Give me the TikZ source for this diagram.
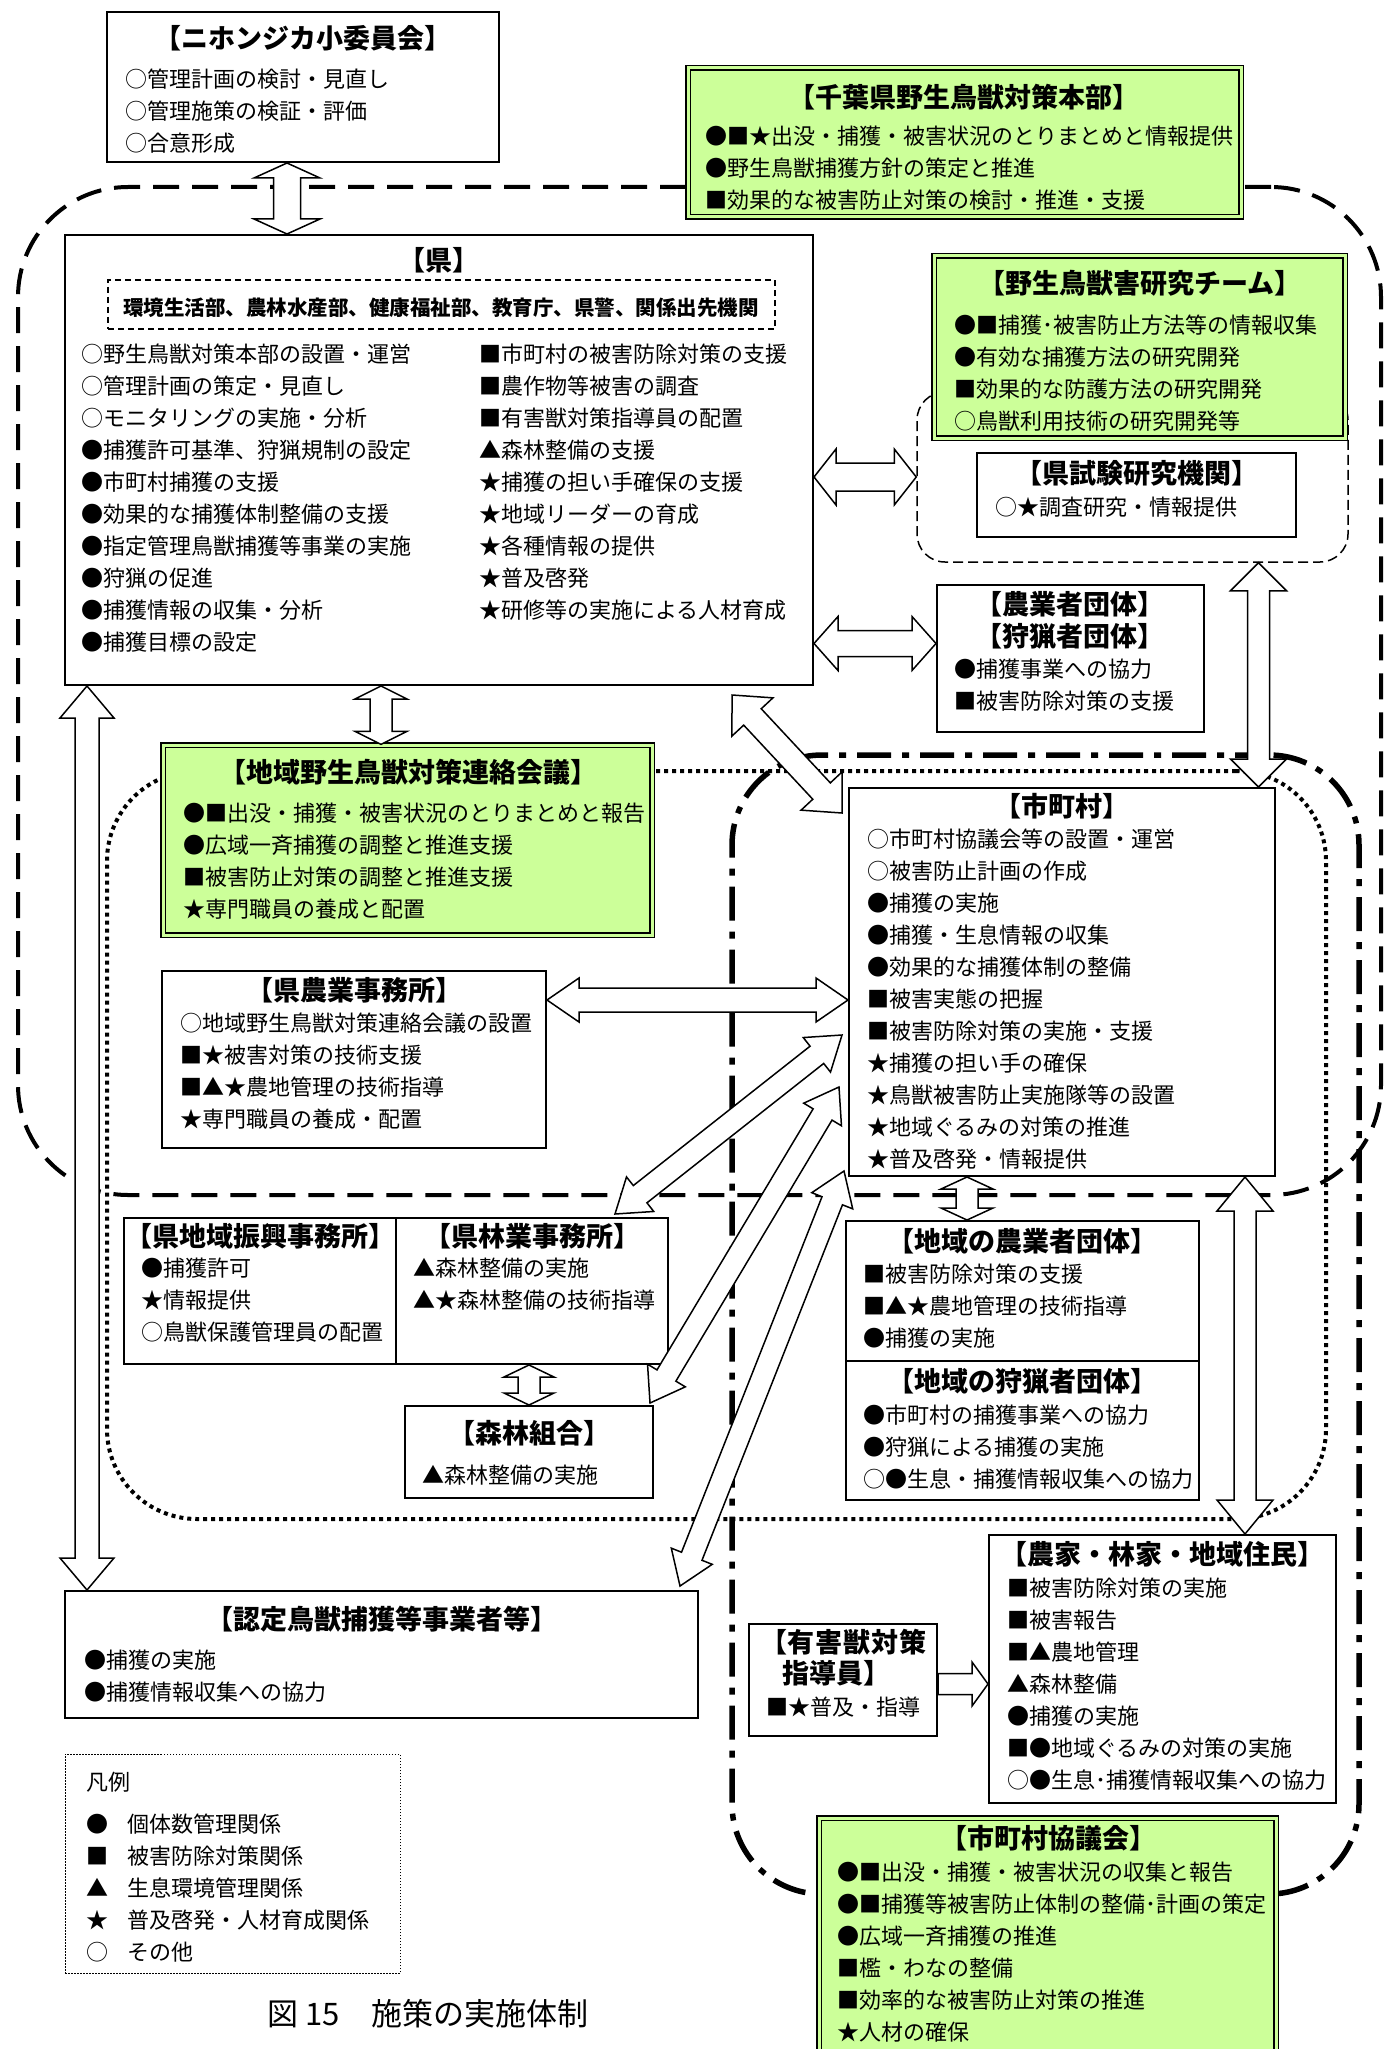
\documentclass[tikz,border=0pt]{standalone}
\usepackage{fontspec}
\setmainfont{Noto Sans CJK JP}
\usetikzlibrary{calc,fit}
\definecolor{grn}{RGB}{204,255,153}

\begin{document}
\begin{tikzpicture}[x=1pt,y=-1pt,
    box/.style={draw,line width=2pt,fill=white,inner sep=0pt},
    gbox/.style={draw,line width=1.2pt,double=grn,double distance=3pt,fill=grn,inner sep=0pt},
    ttl/.style={font=\fontsize{27}{32}\selectfont\bfseries,anchor=base,inner sep=0pt,yshift=-1pt},
    lst/.style={font=\fontsize{22}{32}\selectfont,align=left,anchor=base west,inner sep=0pt},
    blk/.style={draw,line width=1.5pt,fill=white,line join=miter},
    kenzone/.style={draw,line width=4pt,dash pattern=on 26pt off 13pt,rounded corners=110pt,inner sep=0pt},
    areazone/.style={draw,line width=4pt,dash pattern=on 4pt off 4pt,rounded corners=90pt,inner sep=0pt},
    cityzone/.style={draw,line width=5.5pt,dash pattern=on 34pt off 11pt on 7pt off 11pt,rounded corners=90pt,inner sep=0pt},
    labzone/.style={draw,line width=1.5pt,dash pattern=on 10pt off 5pt,rounded corners=28pt,inner sep=0pt}]
  % double block arrow: ends, shaft half width, head half width, head length
  \def\dblarrow#1#2#3#4#5{%
    \path ($(#1)!#5!(#2)$) coordinate (da1) ($(#2)!#5!(#1)$) coordinate (da2);
    \draw[blk] (#1) -- ($(da1)!#4!90:(#2)$) -- ($(da1)!#3!90:(#2)$)
      -- ($(da2)!#3!-90:(#1)$) -- ($(da2)!#4!-90:(#1)$) -- (#2)
      -- ($(da2)!#4!90:(#1)$) -- ($(da2)!#3!90:(#1)$)
      -- ($(da1)!#3!-90:(#2)$) -- ($(da1)!#4!-90:(#2)$) -- cycle;}
  \def\sglarrow#1#2#3#4#5{%
    \path ($(#2)!#5!(#1)$) coordinate (da2);
    \draw[blk] ($(#1)!#3!90:(#2)$) -- ($(da2)!#3!-90:(#1)$) -- ($(da2)!#4!-90:(#1)$) -- (#2)
      -- ($(da2)!#4!90:(#1)$) -- ($(da2)!#3!90:(#1)$) -- ($(#1)!#3!-90:(#2)$) -- cycle;}
  \useasboundingbox (0,0) rectangle (1386,2049);

  % zones
  \node[kenzone,fit={(18,187) (1381,1195)}] (kenz) {};
  \node[areazone,fit={(107,771) (1326,1519)}] (areaz) {};
  \node[cityzone,fit={(732,755) (1359,1894)}] (cityz) {};
  \node[labzone,fit={(917,392) (1348,562)}] (labz) {};

  % boxes (list nodes sit on the baseline of their last line)
  \node[box,fit={(107,12) (499,162)}] (niho) {};
  \node[ttl] (nihoT) at (303,47.5) {【ニホンジカ小委員会】};
  \node[lst] (nihoL) at (125,152) {○管理計画の検討・見直し\\○管理施策の検証・評価\\○合意形成};

  \node[gbox,fit={(688,68) (1241,217)}] (honbu) {};
  \node[ttl] (honbuT) at (964,106.5) {【千葉県野生鳥獣対策本部】};
  \node[lst] (honbuL) at (705,209) {●■★出没・捕獲・被害状況のとりまとめと情報提供\\
    ●野生鳥獣捕獲方針の策定と推進\\■効果的な被害防止対策の検討・推進・支援};

  \node[box,fit={(65,235) (813,685)}] (ken) {};
  \node[ttl] (kenT) at (439,269.5) {【県】};
  \node[draw,line width=1.8pt,dash pattern=on 6pt off 4pt,inner sep=0pt,fit={(108,280) (775,329)}] (kenbu) {};
  \node[font=\fontsize{20.5}{26}\selectfont\bfseries,anchor=base,inner sep=0pt] (kenbuT) at (441,315.5)
    {環境生活部、農林水産部、健康福祉部、教育庁、県警、関係出先機関};
  \node[lst] (kenL) at (81,650) {○野生鳥獣対策本部の設置・運営\\○管理計画の策定・見直し\\
    ○モニタリングの実施・分析\\●捕獲許可基準、狩猟規制の設定\\●市町村捕獲の支援\\
    ●効果的な捕獲体制整備の支援\\●指定管理鳥獣捕獲等事業の実施\\●狩猟の促進\\
    ●捕獲情報の収集・分析\\●捕獲目標の設定};
  \node[lst] (kenR) at (479,618) {■市町村の被害防除対策の支援\\■農作物等被害の調査\\
    ■有害獣対策指導員の配置\\▲森林整備の支援\\★捕獲の担い手確保の支援\\
    ★地域リーダーの育成\\★各種情報の提供\\★普及啓発\\★研修等の実施による人材育成};

  \node[gbox,fit={(934,256) (1345,438)}] (team) {};
  \node[ttl] (teamT) at (1140,292.5) {【野生鳥獣害研究チーム】};
  \node[lst] (teamL) at (954,429) {●■捕獲･被害防止方法等の情報収集\\●有効な捕獲方法の研究開発\\
    ■効果的な防護方法の研究開発\\○鳥獣利用技術の研究開発等};

  \node[box,fit={(977,453) (1296,537)}] (shiken) {};
  \node[ttl] (shikenT) at (1137,482.5) {【県試験研究機関】};
  \node[lst] (shikenL) at (995,515) {○★調査研究・情報提供};

  \node[box,fit={(937,585) (1204,732)}] (noukyo) {};
  \node[ttl] (noukyoT) at (1070,613.5) {【農業者団体】};
  \node[ttl] (ryoukyoT) at (1070,645.5) {【狩猟者団体】};
  \node[lst] (noukyoL) at (954,709) {●捕獲事業への協力\\■被害防除対策の支援};

  \node[gbox,fit={(163,745) (652,935)}] (renraku) {};
  \node[ttl] (renrakuT) at (408,781.5) {【地域野生鳥獣対策連絡会議】};
  \node[lst] (renrakuL) at (183,917) {●■出没・捕獲・被害状況のとりまとめと報告\\
    ●広域一斉捕獲の調整と推進支援\\■被害防止対策の調整と推進支援\\★専門職員の養成と配置};

  \node[box,fit={(849,788) (1275,1176)}] (city) {};
  \node[ttl] (cityT) at (1062,815.5) {【市町村】};
  \node[lst] (cityL) at (867,1167) {○市町村協議会等の設置・運営\\○被害防止計画の作成\\●捕獲の実施\\
    ●捕獲・生息情報の収集\\●効果的な捕獲体制の整備\\■被害実態の把握\\■被害防除対策の実施・支援\\
    ★捕獲の担い手の確保\\★鳥獣被害防止実施隊等の設置\\★地域ぐるみの対策の推進\\★普及啓発・情報提供};

  \node[box,fit={(162,971) (546,1148)}] (noujimu) {};
  \node[ttl] (noujimuT) at (354,999.5) {【県農業事務所】};
  \node[lst] (noujimuL) at (180,1127) {○地域野生鳥獣対策連絡会議の設置\\■★被害対策の技術支援\\
    ■▲★農地管理の技術指導\\★専門職員の養成・配置};

  \node[box,fit={(124,1218) (668,1364)}] (shinko) {};
  \draw[line width=2pt] (shinko.north) -- (shinko.south);
  \node[ttl] (shinkoT) at (260,1245.5) {【県地域振興事務所】};
  \node[lst] (shinkoL) at (141,1340) {●捕獲許可\\★情報提供\\○鳥獣保護管理員の配置};
  \node[ttl] (ringyoT) at (532,1245.5) {【県林業事務所】};
  \node[lst] (ringyoL) at (413,1308) {▲森林整備の実施\\▲★森林整備の技術指導};

  \node[box,fit={(405,1406) (653,1498)}] (shinrin) {};
  \node[ttl] (shinrinT) at (529,1442.5) {【森林組合】};
  \node[lst] (shinrinL) at (422,1483) {▲森林整備の実施};

  \node[box,fit={(846,1221) (1199,1500)}] (chiiki) {};
  \draw[line width=2pt] (chiiki.west) -- (chiiki.east);
  \node[ttl] (chiikiT) at (1022,1250.5) {【地域の農業者団体】};
  \node[lst] (chiikiL) at (863,1346) {■被害防除対策の支援\\■▲★農地管理の技術指導\\●捕獲の実施};
  \node[ttl] (ryoushiT) at (1022,1390.5) {【地域の狩猟者団体】};
  \node[lst] (ryoushiL) at (863,1487) {●市町村の捕獲事業への協力\\●狩猟による捕獲の実施\\
    ○●生息・捕獲情報収集への協力};

  \node[box,fit={(989,1535) (1336,1803)}] (nouka) {};
  \node[ttl] (noukaT) at (1162,1563.5) {【農家・林家・地域住民】};
  \node[lst] (noukaL) at (1007,1788) {■被害防除対策の実施\\■被害報告\\■▲農地管理\\▲森林整備\\
    ●捕獲の実施\\■●地域ぐるみの対策の実施\\○●生息･捕獲情報収集への協力};

  \node[box,fit={(749,1624) (937,1736)}] (yugai) {};
  \node[ttl] (yugaiT) at (843,1651.5) {【有\hspace{1pt}害\hspace{1pt}獣\hspace{1pt}対\hspace{1pt}策};
  \node[ttl] (yugaiT2) at (836,1682.5) {指導員】};
  \node[lst,anchor=base] (yugaiL) at (843,1715) {■★普及・指導};

  \node[gbox,fit={(819,1818) (1276,2060)}] (kyougi) {};
  \node[ttl] (kyougiT) at (1048,1847.5) {【市町村協議会】};
  \node[lst] (kyougiL) at (837,2040) {●■出没・捕獲・被害状況の収集と報告\\
    ●■捕獲等被害防止体制の整備･計画の策定\\●広域一斉捕獲の推進\\■檻・わなの整備\\
    ■効率的な被害防止対策の推進\\★人材の確保};

  \node[box,fit={(65,1591) (698,1718)}] (nintei) {};
  \node[ttl] (ninteiT) at (382,1628.5) {【認定鳥獣捕獲等事業者等】};
  \node[lst] (ninteiL) at (84,1700) {●捕獲の実施\\●捕獲情報収集への協力};

  % legend
  \node[draw,line width=1pt,dash pattern=on 1.5pt off 1.5pt,inner sep=0pt,fit={(65,1754) (400,1973)}] (legend) {};
  \node[lst] (legendT) at (86,1790) {凡例};
  \node[lst] (legendS) at (86,1960) {●\\■\\▲\\★\\○};
  \node[lst] (legendL) at (127,1960) {個体数管理関係\\被害防除対策関係\\生息環境管理関係\\
    普及啓発・人材育成関係\\その他};
  \node[font=\fontsize{31}{36}\selectfont,anchor=base,inner sep=0pt] (caption) at (428,2025)
    {図 15　施策の実施体制};

  % arrows
  \coordinate (a1) at ([xshift=-16pt]niho.south);
  \coordinate (a2) at ([xshift=-152pt]ken.north);
  \dblarrow{a1}{a2}{13.5pt}{33pt}{15pt}
  \coordinate (b1) at ([yshift=-17pt]ken.east);
  \coordinate (b2) at (labz.west);
  \dblarrow{b1}{b2}{14pt}{28pt}{22pt}
  \coordinate (c2) at ([yshift=15pt]noukyo.west);
  \coordinate (c1) at (ken.east |- c2);
  \dblarrow{c1}{c2}{13pt}{27pt}{24pt}
  \coordinate (d1) at ([xshift=126pt]labz.south);
  \coordinate (d2) at (d1 |- city.north);
  \dblarrow{d1}{d2}{11pt}{28pt}{28pt}
  \coordinate (e1) at ([xshift=-58pt]ken.south);
  \coordinate (e2) at (e1 |- renraku.north);
  \dblarrow{e1}{e2}{11pt}{26pt}{13pt}
  \coordinate (f1) at ([shift={(-82pt,-9pt)}]ken.south east);
  \coordinate (f2) at ([shift={(-6pt,-26pt)}]city.north west);
  \dblarrow{f1}{f2}{12pt}{28pt}{30pt}
  \coordinate (g1) at ([xshift=23pt]ken.south west);
  \coordinate (g2) at ([xshift=23pt]nintei.north west);
  \dblarrow{g1}{g2}{12pt}{27pt}{32pt}
  \coordinate (h2) at ([yshift=-18pt]city.west);
  \coordinate (h1) at (noujimu.east |- h2);
  \dblarrow{h1}{h2}{12pt}{22pt}{32pt}
  \coordinate (i1) at ([shift={(-54pt,3pt)}]shinko.north east);
  \coordinate (i2) at ([shift={(-6pt,-53pt)}]city.west);
  \dblarrow{i1}{i2}{11pt}{22pt}{32pt}
  \coordinate (j1) at ([shift={(-4pt,2pt)}]shinrin.north east);
  \coordinate (j2) at ([shift={(-9pt,-105pt)}]city.west);
  \dblarrow{j1}{j2}{11pt}{22pt}{32pt}
  \coordinate (k1) at ([shift={(-19pt,4pt)}]nintei.north east);
  \coordinate (k2) at ([shift={(-4pt,6pt)}]city.south west);
  \dblarrow{k1}{k2}{11pt}{22pt}{32pt}
  \coordinate (l1) at (shinrin.north |- shinko.south);
  \dblarrow{l1}{shinrin.north}{11pt}{25pt}{12pt}
  \coordinate (m1) at ([xshift=-95pt]city.south);
  \coordinate (m2) at (m1 |- chiiki.north);
  \dblarrow{m1}{m2}{11pt}{26pt}{12pt}
  \coordinate (n1) at ([xshift=183pt]city.south);
  \coordinate (n2) at (n1 |- nouka.north);
  \dblarrow{n1}{n2}{11pt}{28pt}{34pt}
  \coordinate (o1) at ([yshift=-4pt]yugai.east);
  \coordinate (o2) at (o1 -| nouka.west);
  \sglarrow{o1}{o2}{10.5pt}{22pt}{16pt}
\end{tikzpicture}
\end{document}
